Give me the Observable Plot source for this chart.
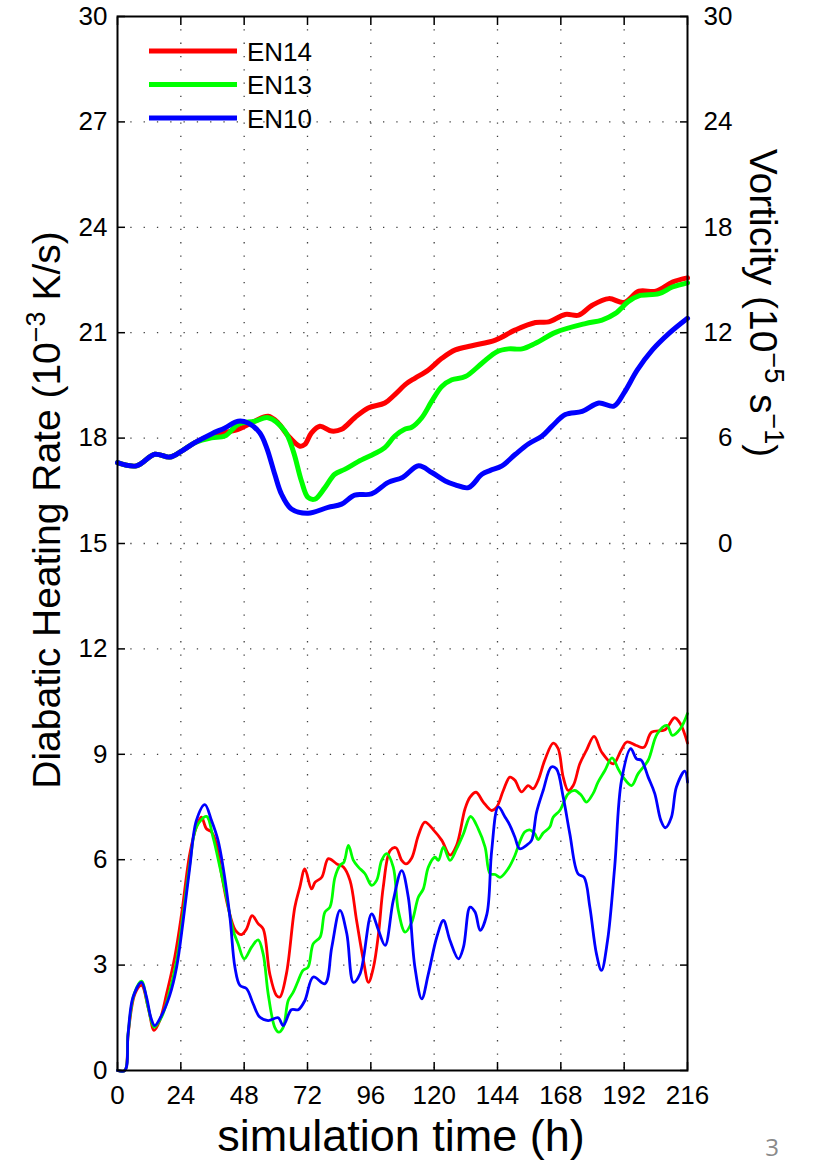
<!DOCTYPE html>
<html>
<head>
<meta charset="utf-8">
<script src="https://cdn.jsdelivr.net/npm/d3@7"></script>
<script src="https://cdn.jsdelivr.net/npm/@observablehq/plot@0.6"></script>
<style>
  html, body { margin: 0; padding: 0; background: #fff; overflow: hidden; }
  #chart svg { display: block; }
</style>
</head>
<body>
<div id="chart"></div>
<script>
// ---------- data ----------
const seriesNames = ["EN14", "EN13", "EN10"];

const xTicks = [0, 24, 48, 72, 96, 120, 144, 168, 192, 216];
const yTicks = [0, 3, 6, 9, 12, 15, 18, 21, 24, 27, 30];
const vortTicks = [0, 6, 12, 18, 24, 30];

// Diabatic heating rate (10^-3 K/s): [hour, value]
const heatEN14 = [[0,0],[2.8,0],[4,1.0],[6.6,2.18],[9.1,2.42],[11.6,1.8],[13.9,1.14],[16,1.42],[18.6,2.18],[21.7,3.23],[24.3,4.46],[27.4,6.17],[29.9,6.93],[31.8,7.21],[33.7,6.88],[35.6,6.79],[37.5,6.45],[39.4,5.6],[41.9,4.65],[44.7,3.99],[47,3.87],[48.9,4.03],[51,4.41],[53.3,4.18],[55.2,4.03],[57.7,2.75],[60.2,2.14],[61.5,2.09],[64,2.75],[67.2,4.65],[69.1,5.22],[71,5.74],[73.5,5.17],[74.9,5.36],[77.4,5.5],[79.9,6.03],[83.1,5.88],[85.6,5.79],[88.1,5.41],[90.6,4.27],[93.2,3.13],[95.1,2.51],[97,2.94],[98.9,3.89],[100.7,5.22],[103.3,6.26],[105.5,6.34],[107.7,5.98],[109.3,5.88],[111.5,6.05],[114,6.69],[116.5,7.07],[119.7,6.85],[122.9,6.55],[126,6.13],[128.5,6.41],[131.7,7.45],[133.6,7.78],[135.9,7.92],[138.6,7.64],[141.8,7.4],[143.7,7.5],[146.2,7.97],[148.7,8.35],[150.6,8.26],[153.1,7.93],[155.6,8.11],[157.5,8.02],[159.4,8.26],[161.9,8.83],[165.1,9.32],[167,9.16],[168.9,8.35],[170.8,7.97],[172.7,8.11],[175.2,8.73],[177.7,9.11],[180.6,9.51],[183.5,9.06],[187.9,8.73],[190.8,9.11],[193,9.35],[196.6,9.25],[199.5,9.2],[202.4,9.63],[207.5,9.7],[211.1,10.04],[213.3,9.87],[216,9.32]];
const heatEN13 = [[0,0],[2.8,0],[4,1.04],[6.3,2.18],[9.1,2.54],[11.6,1.8],[13.9,1.23],[16.7,1.52],[19.2,2.09],[22.4,3.13],[24.9,4.46],[27.4,5.88],[29.9,6.93],[33.7,7.23],[36.2,6.64],[38.8,5.79],[41.3,4.93],[43.8,3.99],[45.7,3.61],[48,3.18],[50.8,3.51],[53.3,3.72],[55.2,3.32],[57.1,2.18],[59.6,1.23],[61.1,1.09],[62.8,1.23],[64.7,1.99],[66.6,2.23],[68.5,2.56],[70.3,2.85],[72.2,2.94],[74.2,3.61],[76.8,3.8],[78.6,4.51],[80.5,4.65],[82.4,5.5],[84.3,5.84],[85.8,5.93],[87.5,6.41],[89.4,5.98],[91.3,5.79],[93.8,5.6],[96.3,5.27],[98.2,5.41],[100.1,5.98],[102,6.17],[104.5,5.79],[106.4,4.56],[109,3.94],[111.5,4.22],[114,4.93],[115.9,5.17],[117.8,5.79],[120.3,6.07],[121.6,5.98],[123.5,6.36],[126,5.98],[128.5,6.31],[131.1,6.74],[133.8,7.23],[136.7,6.88],[139.3,6.36],[141.2,5.6],[143.1,5.58],[145,5.5],[148,5.74],[150.6,6.12],[152.4,6.5],[154.3,6.79],[156.2,6.85],[158.1,6.74],[159.4,6.57],[161.3,6.76],[163.8,6.93],[165.1,7.21],[167.6,7.4],[170.8,7.88],[173.3,7.97],[175.8,7.83],[177.7,7.64],[180.2,7.88],[182.1,8.21],[184.7,8.54],[187.4,8.9],[189.7,8.59],[191.6,8.35],[194.8,8.11],[197.3,8.45],[201.1,8.83],[204.5,9.58],[208.2,9.82],[210.3,9.54],[213.3,9.73],[216,10.16]];
const heatEN10 = [[0,0],[2.8,0],[4,1.04],[5.9,2.09],[9.1,2.51],[11,2.09],[12.6,1.52],[14.1,1.28],[16.7,1.57],[19.8,2.14],[22.4,2.94],[24.9,4.27],[27.4,5.79],[29.9,7.12],[33.1,7.57],[35.6,7.12],[38.1,6.55],[40,5.79],[42.6,4.37],[44.5,2.94],[46.4,2.42],[48.9,2.33],[51.4,1.9],[53.9,1.52],[57.1,1.42],[60.9,1.5],[62.8,1.28],[65.9,1.73],[68.5,1.73],[71,1.99],[74.2,2.66],[78.6,2.47],[81.2,3.51],[84.3,4.56],[86.9,3.89],[89.4,2.51],[91.9,2.75],[96.3,4.46],[98.9,3.99],[101.4,3.56],[104.5,4.84],[107.7,5.69],[110.2,4.93],[112.7,2.94],[115.3,2.04],[117.8,2.75],[121,3.8],[123.5,4.27],[126,3.7],[129.2,3.18],[131.1,3.51],[133.6,4.65],[135.5,4.51],[137.4,3.99],[140,4.46],[141.8,6.26],[144.3,7.5],[146.9,7.21],[148.7,6.98],[150.6,6.64],[152.4,6.31],[155,6.41],[156.9,6.55],[158.8,7.35],[161.3,7.97],[164.4,8.64],[166.3,8.59],[168.9,7.78],[171.4,6.74],[174.5,5.6],[176.8,5.5],[179,4.65],[181.5,3.32],[183.4,2.85],[185.7,3.7],[188.4,5.79],[191,8.26],[194.5,9.16],[196.7,8.87],[198.5,8.83],[201.1,8.35],[203.6,7.88],[205.9,7.12],[207.6,6.91],[209.9,7.21],[211.8,8.07],[215,8.52],[216,8.21]];

// Vorticity (10^-5 s^-1): [hour, value]
const vortEN14 = [[0,4.6],[7.2,4.42],[14.1,5.08],[19.8,4.92],[24.3,5.26],[29.3,5.74],[35.6,6.16],[45.7,6.5],[52,6.96],[57.1,7.24],[60.9,6.86],[64.7,6.12],[69.1,5.54],[71,5.64],[73.5,6.3],[76.7,6.68],[81.1,6.4],[84.9,6.5],[89.9,7.16],[95,7.72],[101.3,8.0],[105.1,8.48],[109.5,9.1],[112.8,9.42],[117.8,9.88],[122.9,10.54],[128,11.02],[134.3,11.26],[143.2,11.58],[150.8,12.16],[158.4,12.58],[163.4,12.62],[169.7,13.04],[174.8,13.0],[179.9,13.56],[186.2,13.94],[191.9,13.72],[197.6,14.36],[204,14.36],[210.3,14.88],[216,15.12]];
const vortEN13 = [[0,4.6],[7.2,4.42],[14.1,5.08],[19.8,4.92],[24.3,5.26],[29.3,5.74],[35.6,6.02],[40.7,6.12],[45.7,6.78],[52,6.96],[57.1,7.16],[63.4,6.4],[66.6,5.26],[69.7,3.56],[72.2,2.62],[74.8,2.52],[78.6,3.18],[82.3,3.94],[86.1,4.22],[91.2,4.66],[97.5,5.12],[101.3,5.46],[105.1,6.12],[109,6.52],[111.5,6.62],[115.3,7.16],[119.1,8.1],[122.9,8.94],[126.7,9.32],[131.8,9.5],[138.1,10.26],[143.8,10.92],[148.2,11.08],[153.3,11.08],[158.4,11.4],[166,12.02],[177.3,12.52],[183.6,12.72],[188.7,13.1],[193.8,13.8],[197.6,14.1],[205.2,14.22],[210.3,14.6],[216,14.84]];
const vortEN10 = [[0,4.6],[7.2,4.42],[14.1,5.08],[19.8,4.92],[24.3,5.26],[29.3,5.74],[35.6,6.24],[40.7,6.58],[45.7,6.96],[49.5,6.86],[53.9,6.3],[56.5,5.46],[59.6,3.94],[62.1,2.82],[65.9,1.96],[72.2,1.72],[79.8,2.06],[84.9,2.24],[89.9,2.76],[96.2,2.82],[102.6,3.48],[108,3.76],[114.1,4.42],[119.1,4.04],[124.2,3.56],[128,3.34],[133,3.18],[138.1,3.94],[141.3,4.16],[145.7,4.42],[150.8,5.08],[155.8,5.68],[160.9,6.12],[164.7,6.68],[169.7,7.34],[176.1,7.52],[182.4,8.0],[188.1,7.82],[191.9,8.56],[197,9.88],[202.7,11.02],[209,11.96],[216,12.82]];

// ---------- build ----------
const colors = {EN14: "#ff0000", EN13: "#00ff00", EN10: "#0000ff"};
const heatBy = {EN14: heatEN14, EN13: heatEN13, EN10: heatEN10};
const vortBy = {EN14: vortEN14, EN13: vortEN13, EN10: vortEN10};
// vorticity axis: 0..30 (1e-5/s) mapped onto heating axis 15..30
const vortToY = v => 15 + v / 2;
const yToVort = y => (y - 15) * 2;

const drawOrder = ["EN14", "EN13", "EN10"];
const lineMarks = [];
for (const s of drawOrder) {
  lineMarks.push(Plot.line(heatBy[s].map(([t, v]) => ({t, v})),
    {x: "t", y: "v", stroke: colors[s], strokeWidth: 2.8, curve: "catmull-rom"}));
}
for (const s of drawOrder) {
  lineMarks.push(Plot.line(vortBy[s].map(([t, v]) => ({t, v})),
    {x: "t", y: d => vortToY(d.v), stroke: colors[s], strokeWidth: 5, curve: "catmull-rom"}));
}

const gridOpts = {stroke: "#000", strokeOpacity: 0.75, strokeWidth: 1.3, strokeDasharray: "1.3,12"};

const chart = Plot.plot({
  width: 814,
  height: 1163,
  marginLeft: 117,
  marginRight: 127,
  marginTop: 16,
  marginBottom: 93,
  style: {fontFamily: "'Liberation Sans', Arial, sans-serif", fontSize: "26px", background: "#fff", color: "#000"},
  x: {domain: [0, 216]},
  y: {domain: [0, 30]},
  marks: [
    Plot.gridX({ticks: xTicks.slice(1, -1), ...gridOpts}),
    Plot.gridY({ticks: yTicks.slice(1, -1), ...gridOpts}),
    ...lineMarks,
    Plot.frame({stroke: "#000", strokeWidth: 2}),
    Plot.axisY({anchor: "left", ticks: yTicks, tickSize: 0, tickPadding: 10, label: null}),
    Plot.axisY({anchor: "left", ticks: yTicks, tickSize: -8, strokeWidth: 1.5, tickFormat: () => "", label: null}),
    Plot.axisY({anchor: "right", ticks: yTicks, tickSize: -8, strokeWidth: 1.5, tickFormat: () => "", label: null}),
    Plot.axisY({anchor: "right", ticks: vortTicks.map(vortToY), tickSize: 0, tickPadding: 45, textAnchor: "end", tickFormat: d => String(yToVort(d)), label: null}),
    Plot.axisX({anchor: "bottom", ticks: xTicks, tickSize: 0, tickPadding: 15, label: null}),
    Plot.axisX({anchor: "bottom", ticks: xTicks, tickSize: -8, strokeWidth: 1.5, tickFormat: () => "", label: null}),
    Plot.axisX({anchor: "top", ticks: xTicks, tickSize: -8, strokeWidth: 1.5, tickFormat: () => "", label: null})
  ]
});

document.getElementById("chart").appendChild(chart);

const svg = d3.select(chart);
// drop the empty label nodes of the tick-only axes
svg.selectAll("text").filter(function () { return this.textContent.trim() === ""; }).remove();
svg.selectAll("g").filter(function () { return this.getAttribute("aria-label") && /tick label/.test(this.getAttribute("aria-label")) && this.childElementCount === 0; }).remove();

// ---------- titles, legend ----------
const font = "'Liberation Sans', Arial, sans-serif";

// left axis title
const yl = svg.append("text")
  .attr("transform", "translate(60,510) rotate(-90)")
  .attr("text-anchor", "middle").attr("font-family", font).attr("font-size", 39).attr("fill", "#000");
yl.append("tspan").text("Diabatic Heating Rate (10");
yl.append("tspan").attr("dy", -15).attr("font-size", 27).text("\u22123");
yl.append("tspan").attr("dy", 15).text(" K/s)");

// right axis title
const yr = svg.append("text")
  .attr("transform", "translate(750,303) rotate(90)")
  .attr("text-anchor", "middle").attr("font-family", font).attr("font-size", 39).attr("fill", "#000");
yr.append("tspan").text("Vorticity (10");
yr.append("tspan").attr("dy", -15).attr("font-size", 27).text("\u22125");
yr.append("tspan").attr("dy", 15).text(" s");
yr.append("tspan").attr("dy", -15).attr("font-size", 27).text("\u22121");
yr.append("tspan").attr("dy", 15).text(")");

// x axis title
svg.append("text")
  .attr("x", 401).attr("y", 1151)
  .attr("text-anchor", "middle").attr("font-family", font).attr("font-size", 45).attr("fill", "#000")
  .text("simulation time (h)");

// page number
svg.append("text")
  .attr("x", 772).attr("y", 1156)
  .attr("text-anchor", "middle").attr("font-family", "'Open Sans', sans-serif").attr("font-size", 24).attr("fill", "#8a8a8a")
  .text("3");

// legend
const lg = svg.append("g");
seriesNames.forEach((s, i) => {
  const yy = 51 + i * 33.5;
  lg.append("line").attr("x1", 149).attr("x2", 237).attr("y1", yy).attr("y2", yy)
    .attr("stroke", colors[s]).attr("stroke-width", 5);
  lg.append("text").attr("x", 247).attr("y", yy + 9.5).attr("text-anchor", "start")
    .attr("font-family", font).attr("font-size", 26).attr("fill", "#000").text(s);
});
</script>
</body>
</html>
